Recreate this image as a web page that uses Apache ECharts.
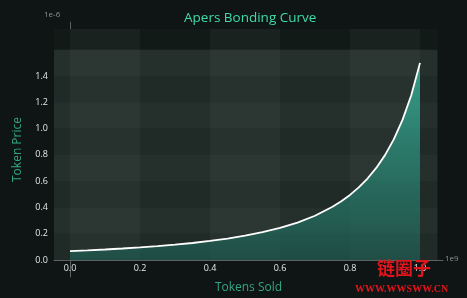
<!DOCTYPE html>
<html>
<head>
<meta charset="utf-8">
<script src="https://cdn.jsdelivr.net/npm/echarts@6/dist/echarts.min.js"></script>
<style>
html,body{margin:0;padding:0;background:#0e1514;}
#c{width:467px;height:298px;}
</style>
</head>
<body>
<div id="c"></div>
<script>
// ---- data (tokens sold in 1e9, price in 1e-6) ----
const tokensSold = [0, 0.05, 0.1, 0.15, 0.2, 0.25, 0.3, 0.35, 0.4, 0.45, 0.5, 0.55, 0.6, 0.65, 0.7, 0.75, 0.775, 0.8, 0.825, 0.85, 0.875, 0.9, 0.925, 0.95, 0.975, 1.0];
const tokenPrice = [0.068, 0.0737, 0.0801, 0.0874, 0.0958, 0.1054, 0.1165, 0.1295, 0.145, 0.163, 0.1848, 0.2113, 0.244, 0.2849, 0.3369, 0.4047, 0.4465, 0.4952, 0.5522, 0.6198, 0.7005, 0.798, 0.9176, 1.066, 1.2538, 1.5];
const xTicks = [0, 0.2, 0.4, 0.6, 0.8, 1.0];
const yTicks = [0, 0.2, 0.4, 0.6, 0.8, 1.0, 1.2, 1.4];
const xBandStarts = [0, 0.4, 0.8];
const yBandStarts = [0, 0.2, 0.4, 0.6, 0.8, 1.0, 1.2, 1.4];
const bandWidth = 0.2;
const xLimits = [-0.05, 1.05];
const yLimits = [0, 1.7576];
const titleText = 'Apers Bonding Curve';
const xName = 'Tokens Sold';
const yName = 'Token Price';

const chart = echarts.init(document.getElementById('c'), null, {renderer: 'canvas'});

const areas = [];
areas.push([{coord: [xLimits[0], yLimits[0]], itemStyle: {color: '#121a18'}}, {coord: [xLimits[1], yLimits[1]]}]);
yBandStarts.forEach((s, i) => {
  areas.push([{coord: [xLimits[0], s], itemStyle: {color: i % 2 === 0 ? 'rgba(190,225,210,0.085)' : 'rgba(190,225,210,0.11)'}}, {coord: [xLimits[1], s + bandWidth]}]);
});
xBandStarts.forEach(s => {
  areas.push([{coord: [s, yLimits[0]], itemStyle: {color: 'rgba(200,235,220,0.045)'}}, {coord: [s + bandWidth, yLimits[1]]}]);
});

const fontFam = "'Open Sans', 'Noto Sans', sans-serif";

chart.setOption({
  backgroundColor: '#0e1514',
  animation: false,
  title: {
    text: titleText,
    left: 179,
    top: 6,
    textStyle: {color: '#3fdcab', fontSize: 13.5, fontWeight: 'normal', fontFamily: fontFam}
  },
  grid: {left: 54, right: 24, top: 22, bottom: 21, containLabel: false, outerBoundsMode: 'none'},
  xAxis: {
    type: 'value',
    min: -0.0457,
    max: 1.0657,
    name: xName,
    nameLocation: 'middle',
    nameGap: 5,
    nameMoveOverlap: false,
    nameTextStyle: {color: '#34a585', fontSize: 12, fontFamily: fontFam},
    axisLine: {onZero: true, lineStyle: {color: '#59625f', width: 1}},
    axisTick: {show: false},
    splitLine: {show: false},
    axisLabel: {
      customValues: xTicks,
      color: '#e6e6e6', fontSize: 9, margin: -13, fontFamily: fontFam,
      formatter: v => v.toFixed(1)
    }
  },
  yAxis: {
    type: 'value',
    min: -0.1293,
    max: 1.811,
    name: yName,
    nameLocation: 'middle',
    nameRotate: 90,
    nameGap: 30,
    nameMoveOverlap: false,
    nameTextStyle: {color: '#34a585', fontSize: 12, fontFamily: fontFam},
    axisLine: {show: true, lineStyle: {color: '#59625f', width: 1}},
    axisTick: {show: false},
    splitLine: {show: false},
    axisLabel: {
      customValues: yTicks,
      color: '#e6e6e6', fontSize: 9, margin: 6, fontFamily: fontFam,
      formatter: v => v.toFixed(1)
    }
  },
  graphic: [
    {type: 'text', left: 44, top: 11, style: {text: '1e-6', fill: '#8a908e', fontSize: 8, fontFamily: fontFam}},
    {type: 'text', left: 445, top: 255, style: {text: '1e9', fill: '#8a908e', fontSize: 8, fontFamily: fontFam}},
    {type: 'text', left: 377, top: 259, z: 100, style: {text: '链圈子', fill: '#e3141c', fontSize: 18, fontWeight: 'bold', fontFamily: "'Noto Sans CJK SC'"}},
    {type: 'text', left: 355, top: 284, z: 100, style: {text: 'WWW.WWSWW.CN', fill: '#e3141c', fontSize: 10, fontWeight: 'bold', fontFamily: "'Liberation Serif', 'DejaVu Serif', serif"}}
  ],
  series: [
    {
      type: 'line',
      data: [],
      silent: true,
      z: 1,
      markArea: {silent: true, data: areas}
    },
    {
      type: 'line',
      z: 5,
      data: tokensSold.map((x, i) => [x, tokenPrice[i]]),
      showSymbol: false,
      smooth: false,
      lineStyle: {color: '#ffffff', width: 1.8},
      areaStyle: {
        origin: 0,
        color: new echarts.graphic.LinearGradient(0, 0, 0, 1, [
          {offset: 0, color: '#3ccbae'},
          {offset: 0.5, color: '#2a8e7c'},
          {offset: 1, color: '#1e5a50'}
        ])
      }
    }
  ]
});
</script>
</body>
</html>
